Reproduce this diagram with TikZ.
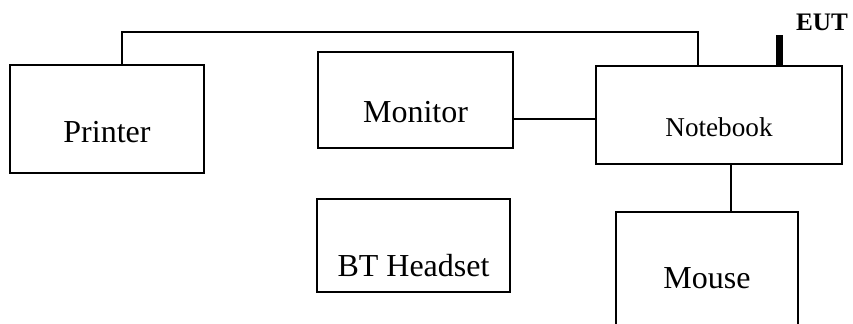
\documentclass[tikz,border=0pt]{standalone}
\usepackage{fontspec}
\setmainfont{Liberation Serif}
\usepackage{tikz}
\tikzset{
  box/.style 2 args={rectangle,draw,line width=1pt,inner sep=0pt,
    minimum width=#1*0.5pt,minimum height=#2*0.5pt},
  txt/.style={font=\fontsize{16}{19}\selectfont,inner sep=0pt},
  smalltxt/.style={font=\fontsize{13.6}{16}\selectfont,inner sep=0pt},
  link/.style={line width=0.8pt},
  antenna/.style={line width=3.5pt},
}
\begin{document}
\begin{tikzpicture}[x=0.5pt,y=-0.5pt]
  \useasboundingbox (0,0) rectangle (853,323);
  \clip (0,0) rectangle (853,323);
  \node (prn) at (107,119) [box={194}{108},label={[txt,yshift=-6.5pt]center:Printer}] {};
  \node (mon) at (415.5,100) [box={195}{96},label={[txt,yshift=-6pt]center:Monitor}] {};
  \node (nb) at (719,115) [box={246}{98},label={[smalltxt,yshift=-6pt]center:Notebook}] {};
  \node (bt) at (413.5,245.5) [box={193}{93},label={[txt,yshift=-10pt]center:BT Headset}] {};
  \node (mouse) at (707,282) [box={182}{140},label={[txt,yshift=2pt]center:Mouse}] {};
  % antenna of the EUT
  \coordinate (ant) at (779,35);
  \draw[antenna] (ant) -- (ant |- nb.north);
  \node (eut) at (822,22) [font=\fontsize{12.6}{15}\selectfont\bfseries,inner sep=0pt] {EUT};
  % cables
  \coordinate (bus) at (400,32);
  \draw[link] ([xshift=7.5pt]prn.north) |- (bus) -| ([xshift=-10.5pt]nb.north);
  \draw[link] ([yshift=-9.5pt]mon.east) -- ([yshift=-9.5pt]mon.east -| nb.west);
  \draw[link] ([xshift=6pt]nb.south) -- ([xshift=6pt]nb.south |- mouse.north);
\end{tikzpicture}
\end{document}
